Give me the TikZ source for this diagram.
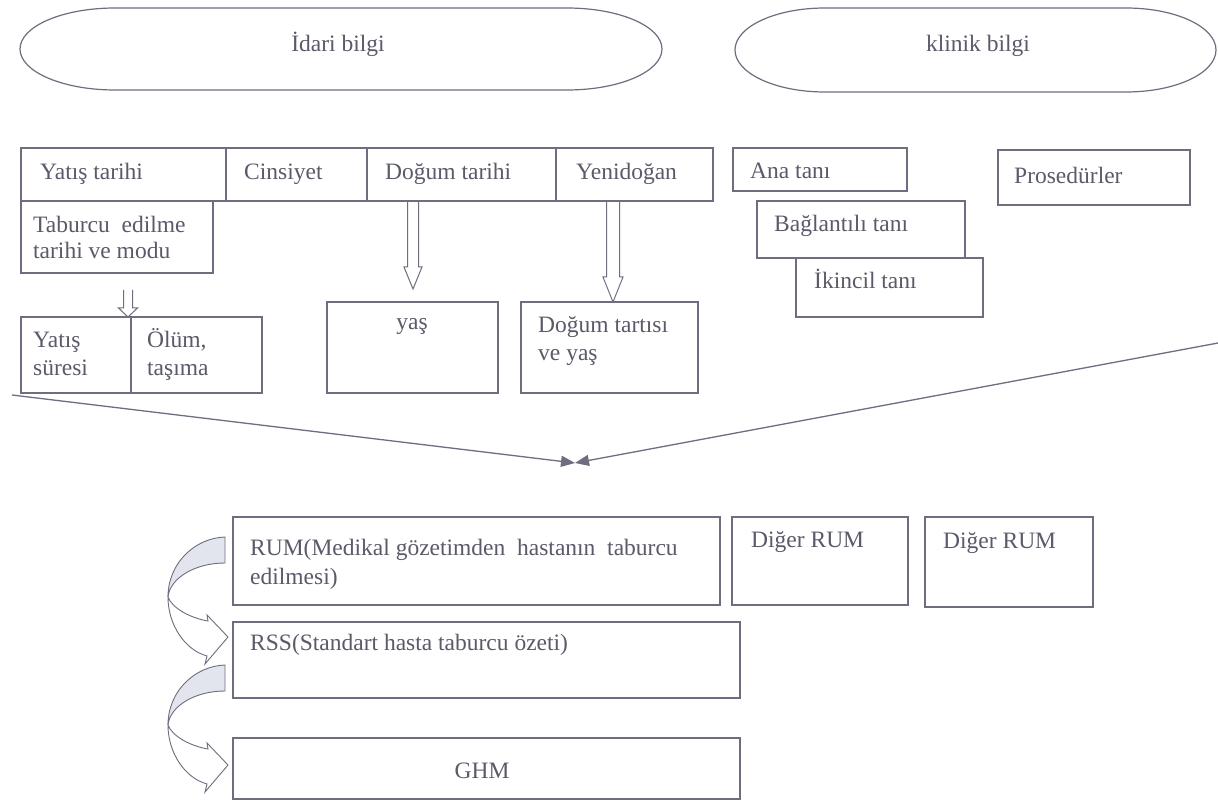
\documentclass[tikz,border=0pt]{standalone}
\usepackage{fontspec}
\setmainfont{Liberation Serif}
\usetikzlibrary{arrows.meta,calc}
\definecolor{ink}{HTML}{5A5A6A}
\definecolor{edge}{HTML}{6E6E80}
\definecolor{shade}{HTML}{E3E5EE}
\newcommand\mkbox[5]{\node[box, minimum width={(#4-#2)*1pt}, minimum height={(#5-#3)*1pt}] (#1) at ({(#2+#4)/2},{(#3+#5)/2}) {};}
\newcommand\hollowdown[6]{\draw[hollow] (#1-#4,#2) -- (#1-#4,#3-#6) -- (#1-#5,#3-#6) -- (#1,#3) -- (#1+#5,#3-#6) -- (#1+#4,#3-#6) -- (#1+#4,#2);}
\newcommand\curvarrow[1]{%
\begin{scope}[shift={(0,#1)}]
\filldraw[draw=edge, fill=shade, line width=0.9pt] (225,537) .. controls (195,538) and (168,563) .. (168,597) .. controls (170,578) and (195,563) .. (225,563) -- cycle;
\filldraw[draw=edge, fill=white, line width=0.9pt] (168,597) .. controls (168,625) and (185,650) .. (207,656) -- (205,664) -- (228,637) -- (207,615) -- (208,621) .. controls (190,618) and (172,608) .. (168,597) -- cycle;
\end{scope}}
\begin{document}
\begin{tikzpicture}[x=1pt,y=-1pt,
  box/.style={draw=edge, line width=1.2pt, inner sep=0pt, outer sep=0pt},
  txt/.style={text=ink, font=\fontsize{23.5}{27}\selectfont, inner sep=0pt, anchor=base west},
  ctxt/.style={txt, anchor=base},
  conn/.style={draw=edge, line width=1.3pt, -{Triangle[length=14pt,width=11pt]}},
  hollow/.style={draw=edge, line width=1pt, fill=white},
  oval/.style={draw=edge, line width=1.2pt}]
\useasboundingbox (0,0) rectangle (1218,802);
\fill[white] (0,0) rectangle (1218,802);

% ovals
\draw[oval] (115,8) -- (567,8) arc[start angle=-90, end angle=90, x radius=95, y radius=41] -- (115,90) arc[start angle=90, end angle=270, x radius=95, y radius=41] -- cycle;
\node[ctxt] (idari) at (338,52) {İdari bilgi};
\draw[oval] (825,8) -- (1126,8) arc[start angle=-90, end angle=90, x radius=90, y radius=42] -- (825,92) arc[start angle=90, end angle=270, x radius=90, y radius=42] -- cycle;
\node[ctxt] (klinik) at (978,52) {klinik bilgi};

% hollow arrows
\hollowdown{413}{201}{289}{5.5}{9}{22}
\hollowdown{613}{201}{302}{6.5}{10}{25}
\hollowdown{128}{290}{317}{4.5}{9.5}{9}

% administrative boxes
\mkbox{yatis}{21}{148}{226}{201}
\mkbox{cins}{226}{148}{367}{201}
\mkbox{dogum}{367}{148}{556}{201}
\mkbox{yeni}{556}{148}{713}{201}
\mkbox{tabur}{21}{201}{213}{273}
\mkbox{sure}{21}{317}{131}{393}
\mkbox{olum}{131}{317}{262}{393}
\mkbox{yas}{327}{302}{498}{393}
\mkbox{tarti}{521}{302}{698}{393}

\node[txt] (t1) at (40,180) {Yatış tarihi};
\node[txt] (t2) at (244,180) {Cinsiyet};
\node[txt] (t3) at (385,180) {Doğum tarihi};
\node[txt] (t4) at (576,180) {Yenidoğan};
\node[txt] (t5a) at (33,233) {Taburcu\ \ edilme};
\node[txt] (t5b) at (33,259) {tarihi ve modu};
\node[txt] (t6a) at (33,347) {Yatış};
\node[txt] (t6b) at (33,375) {süresi};
\node[txt] (t7a) at (147,347) {Ölüm,};
\node[txt] (t7b) at (147,375) {taşıma};
\node[ctxt] (t8) at (412,330) {yaş};
\node[txt] (t9a) at (538,333) {Doğum tartısı};
\node[txt] (t9b) at (538,360) {ve yaş};

% clinical boxes
\mkbox{ana}{733}{148}{907}{191}
\mkbox{pros}{998}{150}{1190}{205}
\mkbox{bag}{757}{201}{965}{258}
\mkbox{ikin}{796}{258}{983}{317}
\node[txt] (t10) at (750,179) {Ana tanı};
\node[txt] (t11) at (1014,184) {Prosedürler};
\node[txt] (t12) at (774,232) {Bağlantılı tanı};
\node[txt] (t13) at (814,289) {İkincil tanı};

% converging lines
\coordinate (lft) at (12,395);
\coordinate (rgt) at (1218,343);
\coordinate (meet) at (575,463);
\draw[conn] (lft) -- (meet);
\draw[conn] (rgt) -- (meet);

% bottom boxes
\mkbox{rum}{233}{517}{720}{605}
\mkbox{dig1}{732}{517}{908}{605}
\mkbox{dig2}{925}{517}{1093}{607}
\mkbox{rss}{233}{622}{740}{698}
\mkbox{ghm}{233}{738}{740}{799}
\node[txt] (t14a) at (250,555) {RUM(Medikal gözetimden\ \ hastanın\ \ taburcu};
\node[txt] (t14b) at (250,584) {edilmesi)};
\node[txt] (t15) at (751,547) {Diğer RUM};
\node[txt] (t16) at (943,548) {Diğer RUM};
\node[txt] (t17) at (250,650) {RSS(Standart hasta taburcu özeti)};
\node[ctxt] (t18) at (482,778) {GHM};

% curved arrows
\curvarrow{0}
\curvarrow{128}
\end{tikzpicture}
\end{document}
